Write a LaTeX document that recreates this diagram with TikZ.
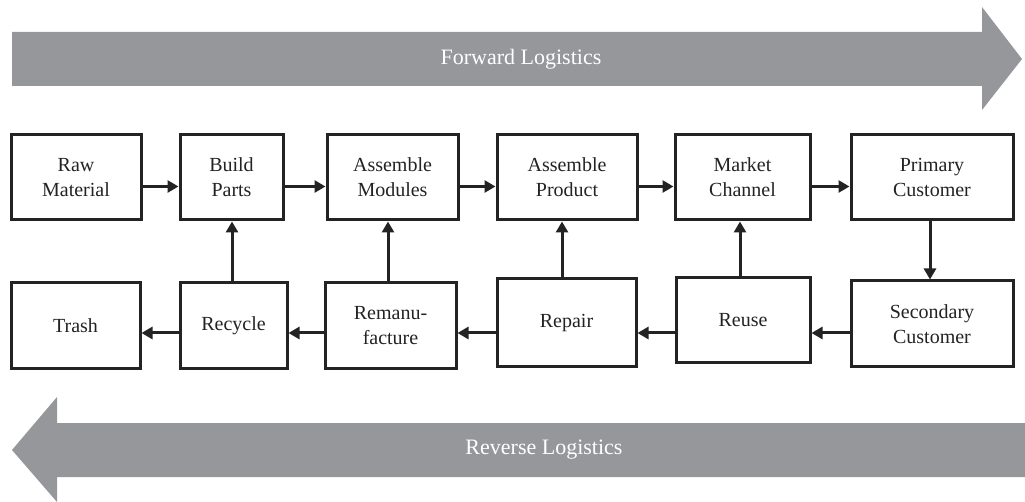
\documentclass[tikz,border=0pt]{standalone}
\usepackage{fontspec}
\setmainfont{Liberation Serif}
\usetikzlibrary{arrows.meta}
\definecolor{biggray}{RGB}{150,151,155}
\definecolor{ink}{RGB}{35,35,35}
\begin{document}
\begin{tikzpicture}[x=1pt,y=-1pt,
  box/.style={draw=ink,line width=3pt,fill=white,inner sep=0pt,align=center,
    text=ink,font=\fontsize{20}{25}\selectfont,minimum height=85pt},
  flow/.style={draw=ink,line width=3pt,-{Triangle[length=11pt,width=12pt]}},
  big/.style={fill=biggray,draw=none},
  bigtext/.style={text=white,font=\fontsize{22}{25}\selectfont}]
\useasboundingbox (0,0) rectangle (1025,502);
% big arrows
\fill[big] (12,32) -- (982,32) -- (982,7) -- (1022,59) -- (982,110) -- (982,86) -- (12,86) -- cycle;
\node[bigtext] (fwd) at (521,59) {Forward Logistics};
\fill[big] (1025,423) -- (57,423) -- (57,397) -- (12,450) -- (57,502) -- (57,477) -- (1025,477) -- cycle;
\node[bigtext] (rev) at (544,450) {Reverse Logistics};
% top row
\node[box,minimum width=130pt] (raw) at (76,177.5) {Raw\\Material};
\node[box,minimum width=103pt] (build) at (231.5,177.5) {Build\\Parts};
\node[box,minimum width=131pt] (amod) at (392.5,177.5) {Assemble\\Modules};
\node[box,minimum width=140pt] (aprod) at (567,177.5) {Assemble\\Product};
\node[box,minimum width=135pt] (market) at (742.5,177.5) {Market\\Channel};
\node[box,minimum width=162pt] (primary) at (932,177.5) {Primary\\Customer};
% bottom row
\node[box,minimum width=129pt,minimum height=86pt] (trash) at (75.5,326) {Trash};
\node[box,minimum width=107pt,minimum height=86pt] (recycle) at (233.5,326) {Recycle};
\node[box,minimum width=131pt,minimum height=86pt] (reman) at (390.5,326) {Remanu-\\facture};
\node[box,minimum width=139pt,minimum height=88pt] (repair) at (566.5,323) {Repair};
\node[box,minimum width=134pt,minimum height=85pt] (reuse) at (743,320.5) {Reuse};
\node[box,minimum width=162pt,minimum height=86pt] (secondary) at (932,324) {Secondary\\Customer};
% forward connectors
\draw[flow] ([yshift=-9pt]raw.east) -- ([yshift=-9pt]build.west);
\draw[flow] ([yshift=-9pt]build.east) -- ([yshift=-9pt]amod.west);
\draw[flow] ([yshift=-9pt]amod.east) -- ([yshift=-9pt]aprod.west);
\draw[flow] ([yshift=-9pt]aprod.east) -- ([yshift=-9pt]market.west);
\draw[flow] ([yshift=-9pt]market.east) -- ([yshift=-9pt]primary.west);
\draw[flow] ([xshift=-2pt]primary.south) -- ([xshift=-2pt]primary.south |- secondary.north);
% reverse connectors
\draw[flow] ([yshift=-9pt]secondary.west) -- ([yshift=-9pt]secondary.west -| reuse.east);
\draw[flow] ([yshift=-12.5pt]reuse.west) -- ([yshift=-12.5pt]reuse.west -| repair.east);
\draw[flow] ([yshift=-10pt]repair.west) -- ([yshift=-10pt]repair.west -| reman.east);
\draw[flow] ([yshift=-7pt]reman.west) -- ([yshift=-7pt]reman.west -| recycle.east);
\draw[flow] ([yshift=-7pt]recycle.west) -- ([yshift=-7pt]recycle.west -| trash.east);
% upward connectors
\draw[flow] ([xshift=-1.5pt]recycle.north) -- ([xshift=-1.5pt]recycle.north |- build.south);
\draw[flow] ([xshift=-2.5pt]reman.north) -- ([xshift=-2.5pt]reman.north |- amod.south);
\draw[flow] ([xshift=-4.5pt]repair.north) -- ([xshift=-4.5pt]repair.north |- aprod.south);
\draw[flow] ([xshift=-3pt]reuse.north) -- ([xshift=-3pt]reuse.north |- market.south);
\end{tikzpicture}
\end{document}
